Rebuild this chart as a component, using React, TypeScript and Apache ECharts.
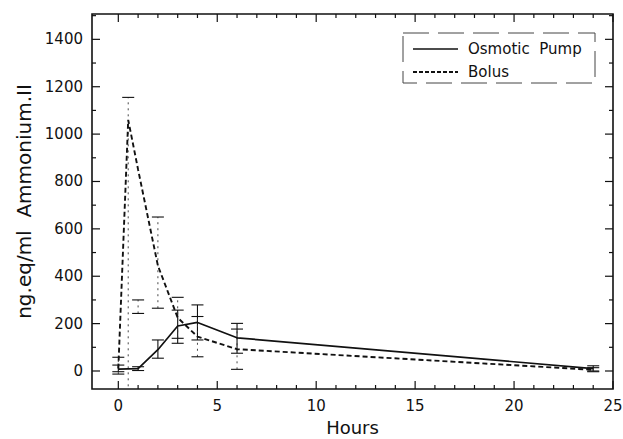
import React, { useEffect, useRef } from "react";
import * as echarts from "echarts";

// ---- data ----
const bolusHours = [0, 0.5, 1, 2, 3, 4, 6, 24];
const bolusValues = [10, 1060, 850, 445, 225, 145, 92, 5];
const bolusLow = [-13, -90, 243, 265, 138, 60, 7, -3];
const bolusHigh = [58, 1155, 300, 650, 311, 230, 177, 14];

const pumpHours = [0, 1, 2, 3, 4, 6, 24];
const pumpValues = [8, 10, 90, 190, 205, 140, 10];
const pumpLow = [-3, 2, 54, 117, 131, 75, 0];
const pumpHigh = [25, 18, 131, 257, 279, 201, 22];

const xMajorTicks = [0, 5, 10, 15, 20, 25];
const xMinorTicks = [1, 2, 3, 4, 6, 7, 8, 9, 11, 12, 13, 14, 16, 17, 18, 19, 21, 22, 23, 24];
const yMajorTicks = [0, 200, 400, 600, 800, 1000, 1200, 1400];
const yMinorTicks = [100, 300, 500, 700, 900, 1100, 1300, 1500];

const seriesNames = ["Osmotic  Pump", "Bolus"];

const X_MIN = -1.33;
const X_MAX = 25;
const Y_MIN = -76;
const Y_MAX = 1507;

const FONT = "DejaVu Sans";
const INK = "#111";

function errorSeries(name: string, hours: number[], low: number[], high: number[], dashed: boolean) {
  return {
    type: "custom",
    name,
    silent: true,
    clip: true,
    z: 3,
    data: hours.map((h, i) => [h, low[i], high[i]]),
    renderItem: (params: any, api: any) => {
      const x = api.value(0);
      const pLo = api.coord([x, api.value(1)]);
      const pHi = api.coord([x, api.value(2)]);
      const w = 6;
      const capStyle = { stroke: INK, lineWidth: 1.1 };
      return {
        type: "group",
        children: [
          {
            type: "line",
            shape: { x1: pLo[0], y1: pLo[1], x2: pHi[0], y2: pHi[1] },
            style: dashed
              ? { stroke: "#333", lineWidth: 0.9, lineDash: [2, 4] }
              : { stroke: INK, lineWidth: 1.1 },
          },
          { type: "line", shape: { x1: pLo[0] - w, y1: pLo[1], x2: pLo[0] + w, y2: pLo[1] }, style: capStyle },
          { type: "line", shape: { x1: pHi[0] - w, y1: pHi[1], x2: pHi[0] + w, y2: pHi[1] }, style: capStyle },
        ],
      };
    },
  };
}

// tick marks on all four sides, pointing inward, placed by the axis scales
function tickSeries(dim: "x" | "y", values: number[], len: number) {
  return {
    type: "custom",
    name: dim + "ticks" + len,
    silent: true,
    clip: false,
    z: 5,
    data: values.map((v) => (dim === "x" ? [v, Y_MIN] : [X_MIN, v])),
    renderItem: (params: any, api: any) => {
      const cs = params.coordSys;
      const p = api.coord([api.value(0), api.value(1)]);
      const st = { stroke: INK, lineWidth: 1.2 };
      if (dim === "x") {
        const b = cs.y + cs.height;
        const t = cs.y;
        return {
          type: "group",
          children: [
            { type: "line", shape: { x1: p[0], y1: b, x2: p[0], y2: b - len }, style: st },
            { type: "line", shape: { x1: p[0], y1: t, x2: p[0], y2: t + len }, style: st },
          ],
        };
      }
      const l = cs.x;
      const r = cs.x + cs.width;
      return {
        type: "group",
        children: [
          { type: "line", shape: { x1: l, y1: p[1], x2: l + len, y2: p[1] }, style: st },
          { type: "line", shape: { x1: r, y1: p[1], x2: r - len, y2: p[1] }, style: st },
        ],
      };
    },
  };
}

export default function App() {
  const ref = useRef<HTMLDivElement>(null);
  useEffect(() => {
    if (!ref.current) return;
    const chart = echarts.init(ref.current, null, { renderer: "svg" });
    chart.setOption({
      animation: false,
      backgroundColor: "#fff",
      textStyle: { fontFamily: FONT },
      grid: {
        left: 92,
        right: 10,
        top: 14,
        bottom: 50,
        containLabel: false,
        outerBoundsMode: "none",
        show: true,
        borderColor: INK,
        borderWidth: 1.6,
        backgroundColor: "transparent",
      },
      xAxis: {
        type: "value",
        min: X_MIN,
        max: X_MAX,
        splitLine: { show: false },
        axisLine: { show: false },
        axisTick: { show: false },
        axisLabel: {
          customValues: xMajorTicks,
          formatter: (v: number) => String(v),
          color: INK,
          fontSize: 15,
          fontFamily: FONT,
          margin: 9,
        },
        name: "Hours",
        nameLocation: "middle",
        nameGap: 29,
        nameTextStyle: { color: INK, fontSize: 18, fontFamily: FONT },
      },
      yAxis: {
        type: "value",
        min: Y_MIN,
        max: Y_MAX,
        splitLine: { show: false },
        axisLine: { show: false },
        axisTick: { show: false },
        axisLabel: {
          customValues: yMajorTicks,
          formatter: (v: number) => String(v),
          color: INK,
          fontSize: 15,
          fontFamily: FONT,
          margin: 9,
        },
        name: "ng.eq/ml  Ammonium.II",
        nameLocation: "middle",
        nameGap: 50,
        nameTextStyle: { color: INK, fontSize: 20, fontFamily: FONT },
      },
      graphic: [
        {
          type: "rect",
          shape: { x: 403, y: 33, width: 192, height: 50 },
          style: { fill: "none", stroke: "#444", lineWidth: 1, lineDash: [26, 9] },
          z: 10,
        },
        {
          type: "line",
          shape: { x1: 413, y1: 49, x2: 458, y2: 49 },
          style: { stroke: INK, lineWidth: 1.6 },
          z: 10,
        },
        {
          type: "line",
          shape: { x1: 413, y1: 72, x2: 458, y2: 72 },
          style: { stroke: INK, lineWidth: 1.8, lineDash: [4, 2] },
          z: 10,
        },
        {
          type: "text",
          x: 468,
          y: 49,
          style: { text: seriesNames[0], fill: INK, font: `15px "${FONT}"`, verticalAlign: "middle" },
          z: 10,
        },
        {
          type: "text",
          x: 468,
          y: 72,
          style: { text: seriesNames[1], fill: INK, font: `15px "${FONT}"`, verticalAlign: "middle" },
          z: 10,
        },
      ],
      series: [
        {
          type: "line",
          name: seriesNames[0],
          data: pumpHours.map((h, i) => [h, pumpValues[i]]),
          symbol: "none",
          lineStyle: { color: INK, width: 1.7, type: "solid" },
          z: 4,
        },
        {
          type: "line",
          name: seriesNames[1],
          data: bolusHours.map((h, i) => [h, bolusValues[i]]),
          symbol: "none",
          lineStyle: { color: INK, width: 1.9, type: [5, 3] },
          z: 4,
        },
        errorSeries("pumpErr", pumpHours, pumpLow, pumpHigh, false),
        errorSeries("bolusErr", bolusHours, bolusLow, bolusHigh, true),
        tickSeries("x", xMajorTicks, 8),
        tickSeries("x", xMinorTicks, 4),
        tickSeries("y", yMajorTicks, 8),
        tickSeries("y", yMinorTicks, 4),
      ],
    });
    return () => chart.dispose();
  }, []);
  return (
    <div
      ref={ref}
      style={{ position: "absolute", left: 0, top: 0, width: 623, height: 439 }}
    />
  );
}
